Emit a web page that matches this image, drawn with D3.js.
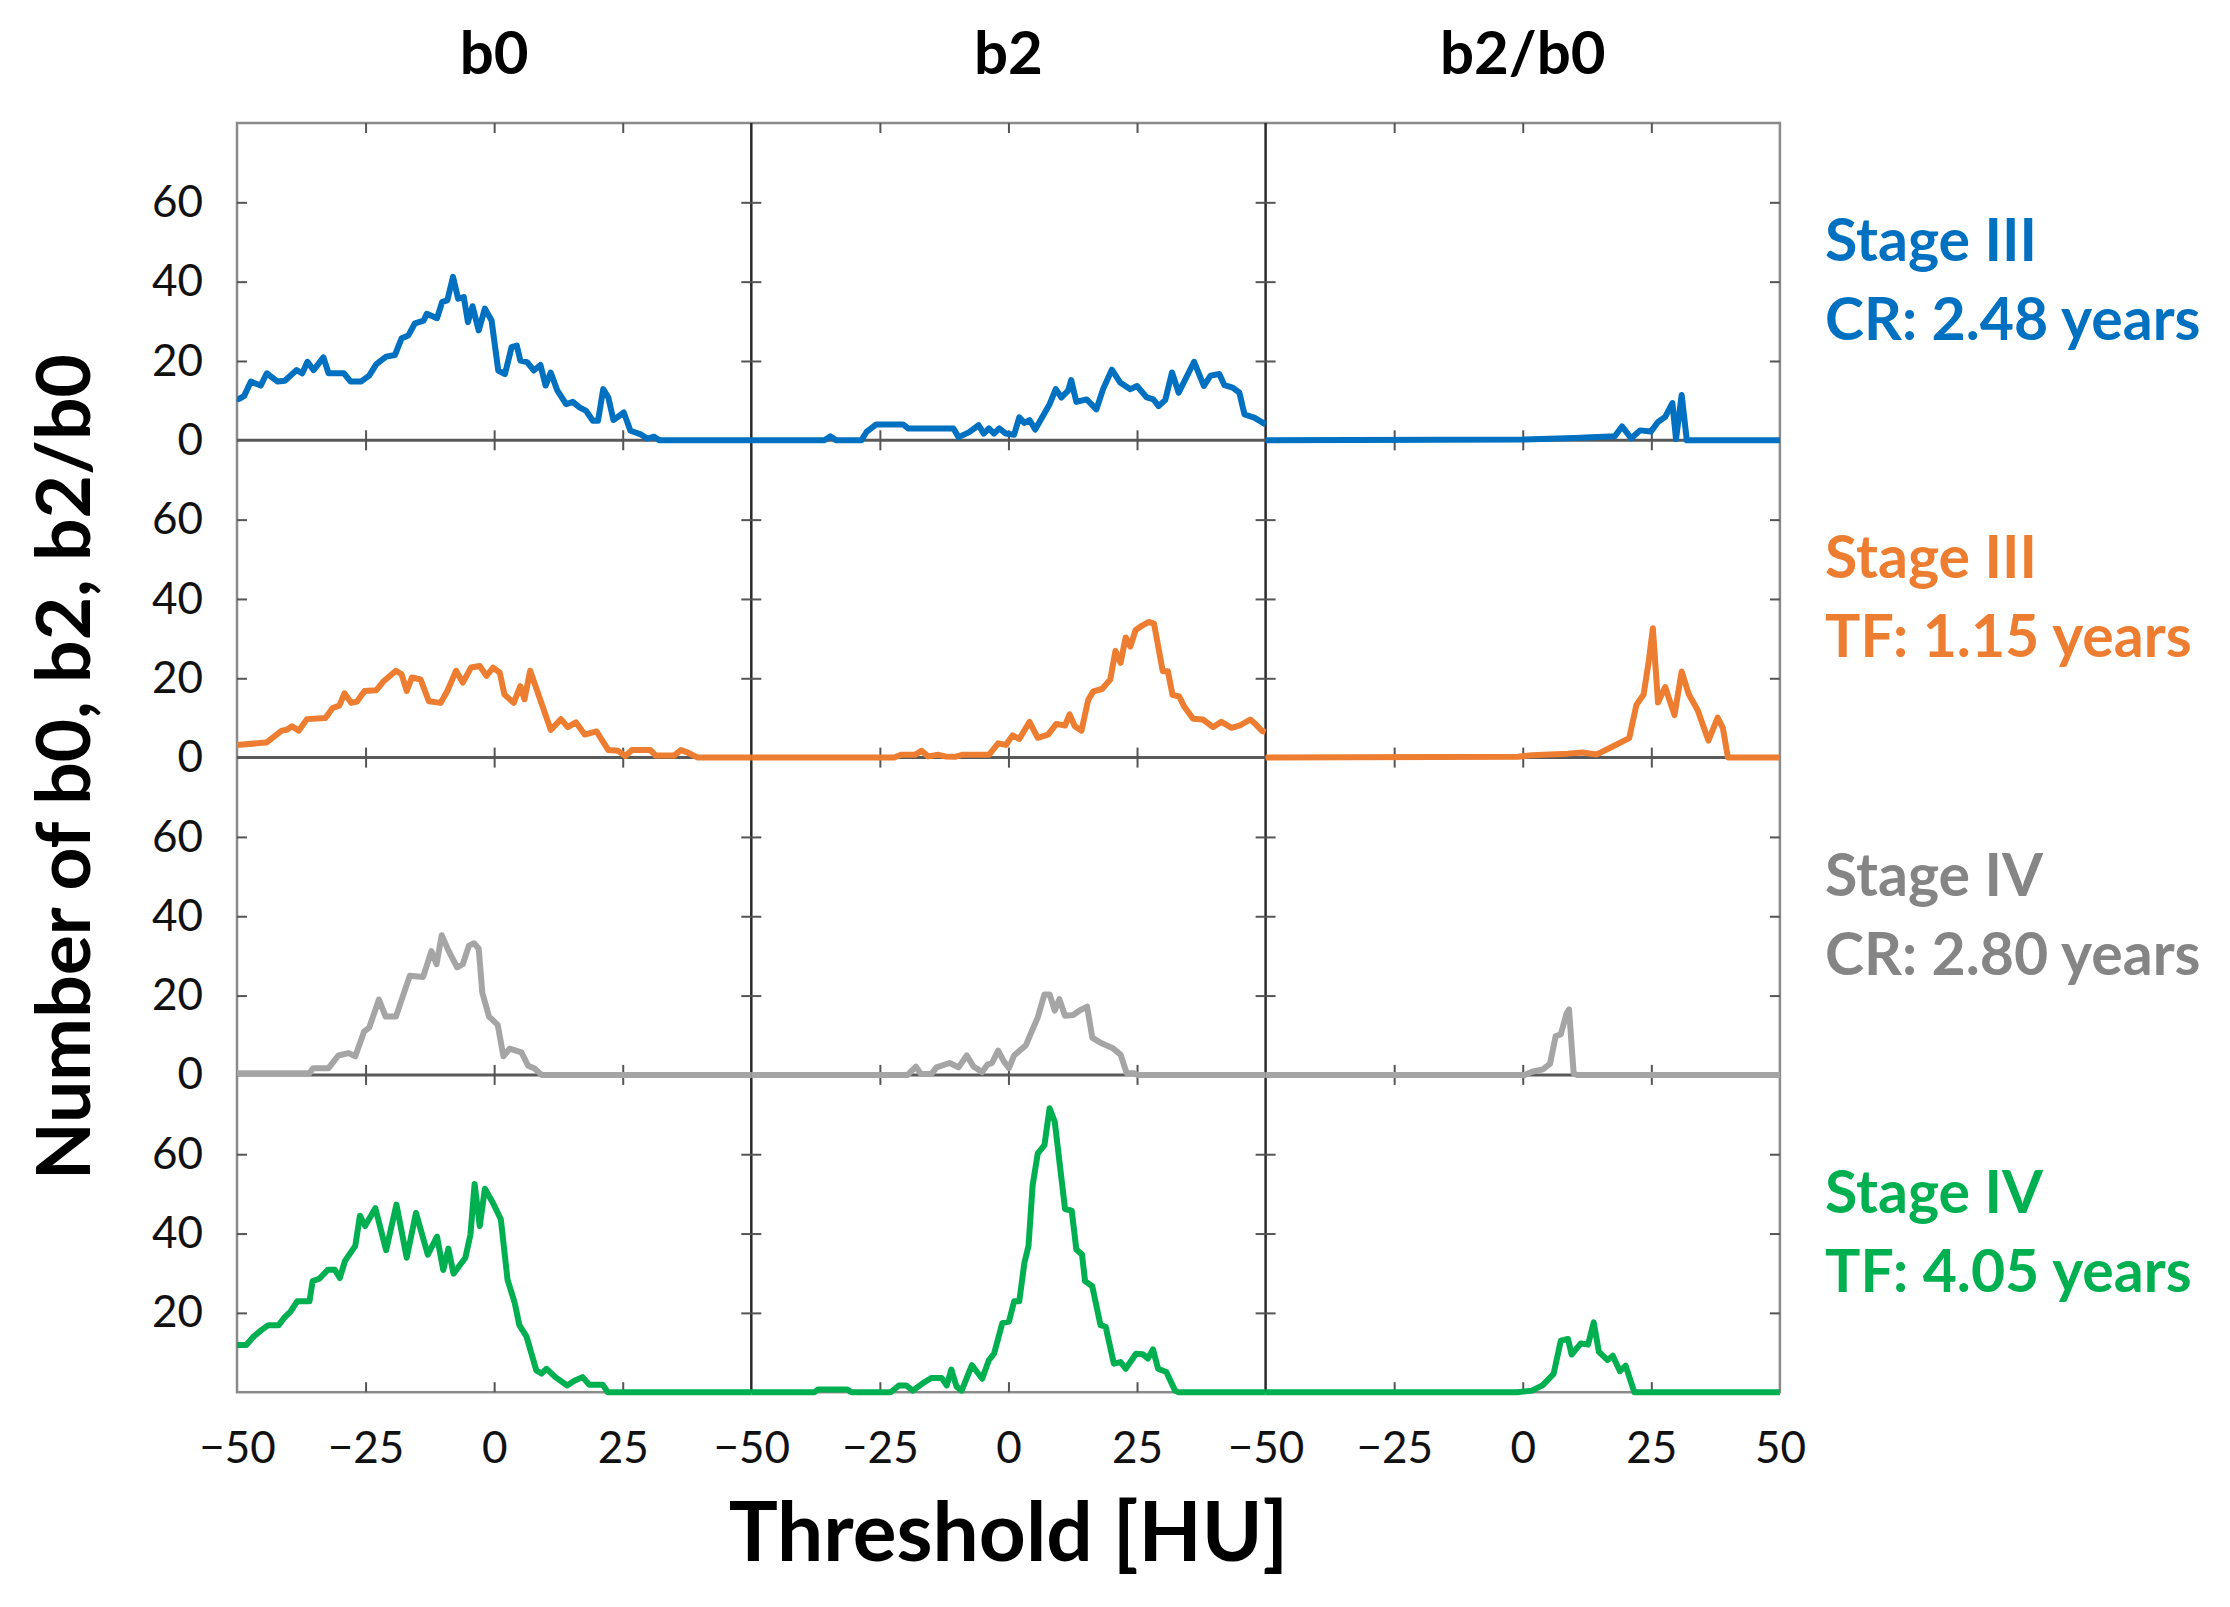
<!DOCTYPE html>
<html>
<head>
<meta charset="utf-8">
<script src="https://cdn.jsdelivr.net/npm/d3@7"></script>
<style>
  body { margin: 0; background: #fff; }
  svg { display: block; font-family: Lato, "Open Sans", sans-serif; }
</style>
</head>
<body>
<div class="grid"></div>
<script>
// [threshold HU, count]
const stage3CR_b0 = [[-50,10.5],[-49.6,10.4],[-48.6,11.2],[-47.3,14.8],[-45.4,13.8],[-44.2,16.9],[-42.1,14.8],[-40.7,15],[-38.4,17.7],[-37.3,16.9],[-36.3,19.8],[-35.1,17.7],[-33.2,20.9],[-32.2,16.9],[-29.2,16.9],[-27.9,14.8],[-25.9,14.8],[-24.3,16.3],[-22.9,19.2],[-21,21.1],[-19.3,21.5],[-18,25.7],[-16.7,26.4],[-15.4,29.5],[-13.7,30.2],[-13.1,31.9],[-11.1,30.8],[-10.1,34.9],[-9.1,35.3],[-8,41.2],[-7,35.7],[-5.9,36.1],[-5.1,29.8],[-4.2,33.8],[-3,27.7],[-1.8,33.2],[-0.5,30.2],[0.8,17.6],[2.1,16.7],[3.4,23.5],[4.4,23.9],[5.1,20.1],[6.4,19.7],[7.7,17.6],[9,19],[10,13.8],[11,17.1],[12.3,12.5],[14,9.1],[15.3,9.7],[16.6,8.3],[17.9,7.4],[19.2,4.9],[20.2,4.9],[21.2,12.9],[22.2,10.8],[23.2,5.1],[25.2,7],[26.5,2.4],[28.5,1.5],[29.8,0.4],[31.1,0.9],[32.1,0],[50,0]];
const stage3CR_b2 = [[-50,0],[-35.8,0],[-34.6,1],[-33.5,0],[-28.6,0],[-27.6,2.1],[-25.7,4],[-20.5,4],[-19.5,3],[-10.7,3],[-9.7,0.8],[-7.7,2],[-5.8,3.8],[-4.8,1.7],[-3.8,3],[-2.8,1.7],[-1.8,3],[-0.5,1.7],[1.1,1.4],[2.1,5.8],[3.1,4.4],[4.1,5.1],[5.2,2.7],[6.7,6.1],[8,9.1],[9.2,12.9],[10.3,10.8],[11.6,12.5],[12.2,15.2],[13.2,9.7],[15.2,10.3],[17.1,7.8],[18.4,12.9],[20.1,17.8],[21.7,14.6],[23.7,12.9],[25,13.7],[26.9,10.8],[28.2,10.3],[29.2,8.6],[30.5,10.2],[31.8,17.1],[33.1,12],[34.4,15.4],[36.1,19.8],[38,13.7],[39.3,16.3],[41,16.7],[42,13.9],[43.6,13.3],[44.9,12],[45.9,6.5],[47.8,5.7],[50,4]];
const stage3CR_ratio = [[-50,0],[0,0.2],[10,0.6],[17.9,1],[19.3,3.5],[21.1,0.5],[22.8,2.5],[24.9,2.2],[26.3,4.6],[27.7,5.9],[29.1,9.4],[29.8,0.3],[30.9,11.4],[31.9,0],[50,0]];

const stage3TF_b0 = [[-50,3.2],[-44.3,3.8],[-42.6,5.5],[-41.3,6.8],[-40.3,7],[-39.3,7.9],[-38,6.8],[-36.4,9.7],[-32.8,10],[-31.4,12.5],[-30.1,13.1],[-29.1,16.2],[-27.8,13.8],[-26.7,14.1],[-25.2,16.8],[-22.9,17],[-21.6,19.1],[-19.1,21.9],[-18,21],[-17,16.8],[-16,20.2],[-14.3,19.7],[-12.7,14.2],[-10.4,13.8],[-9.1,16.8],[-7.4,21.9],[-6.1,18.9],[-4.5,22.7],[-2.8,23.1],[-1.5,20.6],[-0.2,22.7],[1.1,21.4],[2,15.9],[3.8,13.8],[5.1,18],[5.9,14.7],[7,21.9],[11,7],[13,9.7],[14.3,7.7],[15.9,8.9],[17.6,5.8],[19.9,6.6],[22.2,1.9],[24.1,1.7],[25.5,0.4],[26.8,1.9],[30.4,1.9],[31.4,0.5],[35,0.5],[36.3,1.9],[37.6,1.3],[39.6,0],[50,0]];
const stage3TF_b2 = [[-50,0],[-22.2,0],[-20.9,0.7],[-18.2,0.7],[-16.9,1.7],[-15.6,0.3],[-13.6,0.7],[-12.3,0.3],[-10.4,0.2],[-9,0.7],[-3.8,0.7],[-2,3.6],[-0.5,3.2],[0.8,5.6],[2.1,4.7],[4.1,9],[5.7,5],[7.7,5.8],[9.3,8.5],[11,8.1],[11.9,10.9],[12.9,7.9],[14.2,6.8],[15.5,14.5],[16.5,16.7],[18.2,17.3],[19.8,19.7],[20.8,26.9],[21.8,23.9],[22.8,30.3],[23.7,28],[24.7,32.1],[26,33.3],[27.3,34.2],[28.3,33.8],[30,21.8],[31,21.8],[31.9,15.8],[33.2,15.4],[34.2,12.8],[35.9,9.8],[37.8,9.6],[39.8,7.7],[41.4,9],[43.4,7.5],[45,8.1],[47,9.6],[48,8.5],[49.3,6.7],[50,6.5]];
const stage3TF_ratio = [[-50,0],[-1,0.2],[1.8,0.6],[8.8,1],[11.6,1.3],[14.4,0.8],[17.2,2.6],[20.7,4.9],[22.1,13.3],[23.5,15.9],[24.5,24.3],[25.3,32.6],[26.3,13.9],[27.7,17.8],[29.5,10.7],[30.9,21.7],[32.3,15.9],[34,12],[36.1,4.3],[37.9,10.1],[38.9,7.5],[39.9,0],[50,0]];

const stage4CR_b0 = [[-50,0.4],[-35.9,0.4],[-35.2,1.7],[-32.2,1.7],[-30.3,4.9],[-28.3,5.5],[-27,4.7],[-25.3,10.9],[-24.3,11.9],[-22.4,19],[-21.1,14.7],[-19.1,14.7],[-16.4,25],[-13.8,24.7],[-12.2,31.2],[-11.2,27.9],[-10.2,35.2],[-8.9,31.4],[-7.2,27.1],[-6.1,27.9],[-4.9,32.6],[-3.9,33.2],[-3,31.8],[-2.3,20.7],[-1,14.7],[0.7,12.6],[1.8,4.7],[3,6.6],[5.3,5.7],[6.6,2.3],[7.9,1.6],[9.2,0],[50,0]];
const stage4CR_b2 = [[-50,0],[-19.6,0],[-18,2.1],[-17,0.2],[-15,0.2],[-14,1.9],[-11.4,3],[-9.7,1.9],[-8.1,4.9],[-6.8,2.1],[-5.1,0.7],[-4.1,2.6],[-3.2,3],[-2,6.1],[-0.9,3.4],[0.1,1.7],[1.1,4.9],[3.4,7.5],[4.4,10.6],[5.7,14.5],[7,20.3],[8,20.3],[9,16.2],[9.9,19.1],[11,14.9],[12.6,15.1],[13.9,16.3],[15.3,17.2],[16.3,9.4],[17.9,8.1],[20.2,6.8],[21.8,5.1],[23,0.4],[24.5,0.4],[25.1,0],[50,0]];
const stage4CR_ratio = [[-50,0],[0.4,0],[1.8,0.8],[3.9,1.4],[5.3,2.8],[6.4,9.8],[7.4,10.2],[8.5,15.4],[9,16.5],[9.9,0.4],[10.5,0],[50,0]];

const stage4TF_b0 = [[-50,11.9],[-48.2,11.9],[-46.8,14],[-45.2,15.7],[-43.9,16.9],[-41.9,16.9],[-40.6,19.1],[-39.6,20.3],[-38.3,22.9],[-35.9,22.9],[-35.3,28],[-34,28.6],[-32.3,30.9],[-31,30.9],[-30,28.8],[-29,33.1],[-27,36.9],[-26.1,44.5],[-25.1,41.9],[-23.1,46.4],[-21,35.8],[-19,47.3],[-17,33.9],[-15.2,45.2],[-12.9,34.7],[-11.1,39.2],[-9.9,30.8],[-8.9,36.2],[-7.9,29.9],[-5.6,33.9],[-4.6,39.8],[-3.8,52.5],[-2.8,41.9],[-1.8,51.3],[-0.3,47.9],[1.3,43.6],[2.6,28.4],[4,22.5],[4.9,16.9],[6.3,14],[8.2,5.5],[9.2,4.7],[10.2,5.9],[11.9,3.8],[14.2,1.7],[15.5,2.8],[17.2,3.8],[18.5,1.9],[21.1,1.9],[22.1,0],[50,0]];
const stage4TF_b2 = [[-50,0],[-37.7,0],[-37,0.7],[-31.4,0.7],[-30.5,0],[-22.9,0],[-21.3,1.7],[-19.9,1.7],[-18.6,0.4],[-16.6,2.3],[-15,3.6],[-13,3.6],[-12,1.7],[-11.1,5.7],[-10.1,1.4],[-9.1,0.4],[-7.1,6.8],[-5.1,3.4],[-3.8,8.1],[-2.8,9.7],[-1.2,17.4],[0.1,17.8],[1.1,22.9],[2.1,22.9],[3.1,32.6],[3.9,36.9],[4.7,52.1],[5.7,60.2],[7,62.3],[8,71.6],[9,68.2],[11,46.2],[12.3,45.8],[13.2,36],[14.3,34.7],[14.9,28],[16.3,26.7],[17.9,16.9],[18.9,16.5],[20.5,7.2],[21.8,7.6],[22.8,5.9],[24.8,9.7],[26.1,9.6],[27.1,8.5],[28.1,10.8],[29.1,5.9],[30.7,5.1],[32.4,0.4],[33,0],[50,0]];
const stage4TF_ratio = [[-50,0],[-1.1,0],[1.8,0.4],[3.9,1.8],[6,4.6],[7.4,13],[8.8,13.4],[9.5,9.5],[11.3,12.3],[12.7,12],[13.8,17.6],[14.8,10.2],[16.5,8.1],[17.5,9.2],[18.9,5.3],[20,6.7],[21.7,0],[50,0]];

const columns = ["b0", "b2", "b2/b0"];
const groups = [
  ["Stage III", "CR: 2.48 years"],
  ["Stage III", "TF: 1.15 years"],
  ["Stage IV", "CR: 2.80 years"],
  ["Stage IV", "TF: 4.05 years"]
];
const lineColors = ["#0070C0", "#ED7D31", "#A5A5A5", "#00B050"];
const textColors = ["#0070C0", "#ED7D31", "#858585", "#00B050"];
const yTicks = [0, 20, 40, 60];
const xTicks = [-50, -25, 0, 25];

const series = [
  [stage3CR_b0, stage3CR_b2, stage3CR_ratio],
  [stage3TF_b0, stage3TF_b2, stage3TF_ratio],
  [stage4CR_b0, stage4CR_b2, stage4CR_ratio],
  [stage4TF_b0, stage4TF_b2, stage4TF_ratio]
];

const W = 2230, H = 1607;
const mLeft = 237, mTop = 123;
const pw = 514.3, ph = 317.3;

const svg = d3.select(".grid").append("svg")
  .attr("width", W).attr("height", H)
  .attr("viewBox", [0, 0, W, H]);

const x = d3.scaleLinear().domain([-50, 50]).range([0, pw]);
const y = d3.scaleLinear().domain([0, 80]).range([ph, 0]);
const line = d3.line().x(d => x(d[0])).y(d => y(d[1]));

// frame and dividers
const frame = svg.append("g");
frame.append("rect")
  .attr("x", mLeft).attr("y", mTop)
  .attr("width", pw * 3).attr("height", ph * 4)
  .attr("fill", "none").attr("stroke", "#8a8a8a").attr("stroke-width", 2.5);
for (let c = 1; c < 3; c++) {
  frame.append("line")
    .attr("x1", mLeft + c * pw).attr("x2", mLeft + c * pw)
    .attr("y1", mTop).attr("y2", mTop + ph * 4)
    .attr("stroke", "#2a2a2a").attr("stroke-width", 2.5);
}
for (let r = 1; r < 4; r++) {
  frame.append("line")
    .attr("x1", mLeft).attr("x2", mLeft + pw * 3)
    .attr("y1", mTop + r * ph).attr("y2", mTop + r * ph)
    .attr("stroke", "#5a5a5a").attr("stroke-width", 3);
}

// small inward ticks on every panel edge
const styleTicks = g => {
  g.select(".domain").remove();
  g.selectAll(".tick line").attr("stroke", "#555").attr("stroke-width", 2);
};

series.forEach((row, r) => {
  row.forEach((data, c) => {
    const g = svg.append("g")
      .attr("transform", `translate(${mLeft + c * pw},${mTop + r * ph})`);

    g.append("g").attr("transform", `translate(0,${ph})`)
      .call(d3.axisBottom(x).tickValues([-25, 0, 25]).tickSize(-10).tickFormat(""))
      .call(styleTicks);
    g.append("g")
      .call(d3.axisTop(x).tickValues([-25, 0, 25]).tickSize(-10).tickFormat(""))
      .call(styleTicks);
    g.append("g")
      .call(d3.axisLeft(y).tickValues([20, 40, 60]).tickSize(-10).tickFormat(""))
      .call(styleTicks);
    g.append("g").attr("transform", `translate(${pw},0)`)
      .call(d3.axisRight(y).tickValues([20, 40, 60]).tickSize(-10).tickFormat(""))
      .call(styleTicks);
  });
});

// data lines on top of the grid
series.forEach((row, r) => {
  row.forEach((data, c) => {
    svg.append("path")
      .attr("transform", `translate(${mLeft + c * pw},${mTop + r * ph})`)
      .datum(data)
      .attr("d", line)
      .attr("fill", "none")
      .attr("stroke", lineColors[r])
      .attr("stroke-width", 6)
      .attr("stroke-linejoin", "round");
  });
});

// tick labels
const styleLabels = g => {
  g.select(".domain").remove();
  g.selectAll(".tick line").remove();
  g.selectAll("text").attr("font-size", 44).attr("fill", "#111").attr("font-family", "Lato, sans-serif");
};
series.forEach((row, r) => {
  svg.append("g")
    .attr("transform", `translate(${mLeft},${mTop + r * ph})`)
    .call(d3.axisLeft(y).tickValues(r === 3 ? yTicks.slice(1) : yTicks).tickSize(0).tickPadding(34))
    .call(styleLabels);
});
columns.forEach((name, c) => {
  svg.append("g")
    .attr("transform", `translate(${mLeft + c * pw},${mTop + 4 * ph})`)
    .call(d3.axisBottom(x).tickValues(c === 2 ? xTicks.concat([50]) : xTicks).tickSize(0).tickPadding(40))
    .call(styleLabels);

  svg.append("text")
    .attr("x", mLeft + c * pw + pw / 2).attr("y", 74)
    .attr("text-anchor", "middle")
    .attr("font-size", 60).attr("font-weight", 700)
    .text(name);
});

// group labels on the right
groups.forEach((lines, r) => {
  lines.forEach((t, i) => {
    svg.append("text")
      .attr("x", 1825).attr("y", mTop + r * ph + 138 + i * 79)
      .attr("font-size", 59).attr("font-weight", 700)
      .attr("fill", textColors[r])
      .text(t);
  });
});

// axis titles
svg.append("text")
  .attr("x", mLeft + pw * 1.5).attr("y", 1561)
  .attr("text-anchor", "middle")
  .attr("font-size", 82).attr("font-weight", 700)
  .text("Threshold [HU]");

svg.append("text")
  .attr("transform", `translate(90,767) rotate(-90)`)
  .attr("text-anchor", "middle")
  .attr("font-size", 75).attr("font-weight", 700)
  .text("Number of b0, b2, b2/b0");
</script>
</body>
</html>
